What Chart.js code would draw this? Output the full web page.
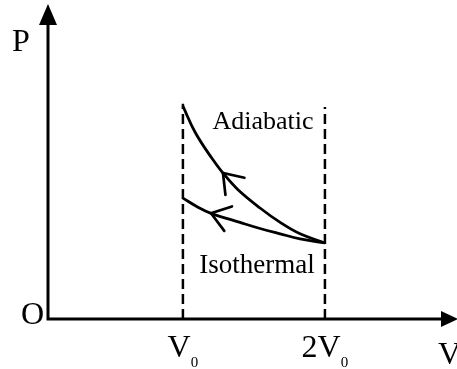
<!DOCTYPE html>
<html>
<head>
<meta charset="utf-8">
<script src="https://cdn.jsdelivr.net/npm/chart.js@4"></script>
<style>
  html, body { margin: 0; padding: 0; background: #fff; }
</style>
</head>
<body>
<canvas id="myChart" width="457" height="369"></canvas>
<script>
  // values (V in units where V0 = 1, P where the end point = 1)
  const adiabaticV = [1.0, 1.085, 1.198, 1.282, 1.388, 1.543, 1.685, 1.825, 2.0];
  const adiabaticP = [2.80, 2.46, 2.13, 1.92, 1.70, 1.46, 1.27, 1.12, 1.0];
  const isothermalV = [1.0, 1.106, 1.198, 1.402, 1.543, 1.685, 1.825, 2.0];
  const isothermalP = [1.59, 1.47, 1.39, 1.27, 1.19, 1.12, 1.055, 1.0];

  // dashed guides at V0 and 2V0
  const guideV = [1, 2];
  const guideTop = [2.83, 2.79];

  // tick labels (main part + subscript)
  const tickValues = [1, 2];
  const tickMain = ['V', '2V'];
  const tickSub = ['0', '0'];

  // curve labels
  const curveNames = ['Adiabatic', 'Isothermal'];
  const labelV = [1.564, 1.522];
  const labelP = [2.50, 0.605];

  // index of the point where the direction arrow sits on each curve
  const arrowIndex = [3, 2];

  const pts = (xs, ys) => xs.map((x, i) => ({ x: x, y: ys[i] }));

  const serif = '"Liberation Serif", "Times New Roman", serif';

  const diagram = {
    id: 'diagram',
    afterDatasetsDraw(chart) {
      const c = chart.ctx;
      const xs = chart.scales.x, ys = chart.scales.y;
      const area = chart.chartArea;
      const ox = area.left, oy = ys.getPixelForValue(0);

      c.save();
      c.strokeStyle = '#000';
      c.fillStyle = '#000';
      c.lineWidth = 3;
      c.setLineDash([]);

      // axes
      c.beginPath();
      c.moveTo(ox, area.top + 15);
      c.lineTo(ox, oy);
      c.lineTo(area.right - 14, oy);
      c.stroke();
      // arrow heads
      c.beginPath();
      c.moveTo(ox, area.top - 1);
      c.lineTo(ox - 9, area.top + 20);
      c.lineTo(ox + 9, area.top + 20);
      c.closePath();
      c.fill();
      c.beginPath();
      c.moveTo(area.right + 1, oy);
      c.lineTo(area.right - 16, oy - 8);
      c.lineTo(area.right - 16, oy + 8);
      c.closePath();
      c.fill();

      // direction arrows on the curves
      c.lineWidth = 2.7;
      c.lineCap = 'round';
      chart.data.datasets.slice(0, 2).forEach((ds, d) => {
        const meta = chart.getDatasetMeta(d);
        const k = arrowIndex[d];
        const tip = meta.data[k], back = meta.data[k + 1];
        const a = Math.atan2(back.y - tip.y, back.x - tip.x);
        const len = 22, spread = 0.62;
        c.beginPath();
        c.moveTo(tip.x + len * Math.cos(a - spread), tip.y + len * Math.sin(a - spread));
        c.lineTo(tip.x, tip.y);
        c.lineTo(tip.x + len * Math.cos(a + spread), tip.y + len * Math.sin(a + spread));
        c.stroke();
      });

      // texts
      c.textBaseline = 'alphabetic';
      c.font = '32px ' + serif;
      c.textAlign = 'left';
      c.fillText('P', 12, 51);
      c.textAlign = 'right';
      c.fillText('O', ox - 4, oy + 5);
      c.textAlign = 'left';
      c.fillText('V', 438, 364);

      tickValues.forEach((v, i) => {
        const px = xs.getPixelForValue(v);
        c.font = '32px ' + serif;
        const w1 = c.measureText(tickMain[i]).width;
        c.font = '15px ' + serif;
        const w2 = c.measureText(tickSub[i]).width;
        const x0 = px - (w1 + w2) / 2;
        c.textAlign = 'left';
        c.font = '32px ' + serif;
        c.fillText(tickMain[i], x0, oy + 38);
        c.font = '15px ' + serif;
        c.fillText(tickSub[i], x0 + w1, oy + 48);
      });

      c.textAlign = 'center';
      curveNames.forEach((t, i) => {
        c.font = (i === 0 ? '26px ' : '27px ') + serif;
        c.fillText(t, xs.getPixelForValue(labelV[i]), ys.getPixelForValue(labelP[i]));
      });
      c.restore();
    }
  };

  const ctx = document.getElementById('myChart').getContext('2d');

  const myChart = new Chart(ctx, {
    type: 'scatter',
    data: {
      datasets: [
        {
          label: 'Adiabatic',
          data: pts(adiabaticV, adiabaticP),
          showLine: true,
          borderColor: '#000',
          borderWidth: 2.8,
          pointRadius: 0,
          tension: 0.4
        },
        {
          label: 'Isothermal',
          data: pts(isothermalV, isothermalP),
          showLine: true,
          borderColor: '#000',
          borderWidth: 2.8,
          pointRadius: 0,
          tension: 0.4
        },
        ...guideV.map((v, i) => ({
          label: 'guide' + i,
          data: [{ x: v, y: 0 }, { x: v, y: guideTop[i] }],
          showLine: true,
          borderColor: '#000',
          borderWidth: 2.5,
          borderDash: [10, 5],
          pointRadius: 0
        }))
      ]
    },
    options: {
      responsive: false,
      animation: false,
      events: [],
      layout: { padding: { left: 48, right: 0, top: 5, bottom: 50 } },
      plugins: {
        legend: { display: false },
        tooltip: { enabled: false }
      },
      scales: {
        x: { type: 'linear', min: 0.05, max: 2.93, display: false },
        y: { type: 'linear', min: 0, max: 4.13, display: false }
      }
    },
    plugins: [diagram]
  });
</script>
</body>
</html>
